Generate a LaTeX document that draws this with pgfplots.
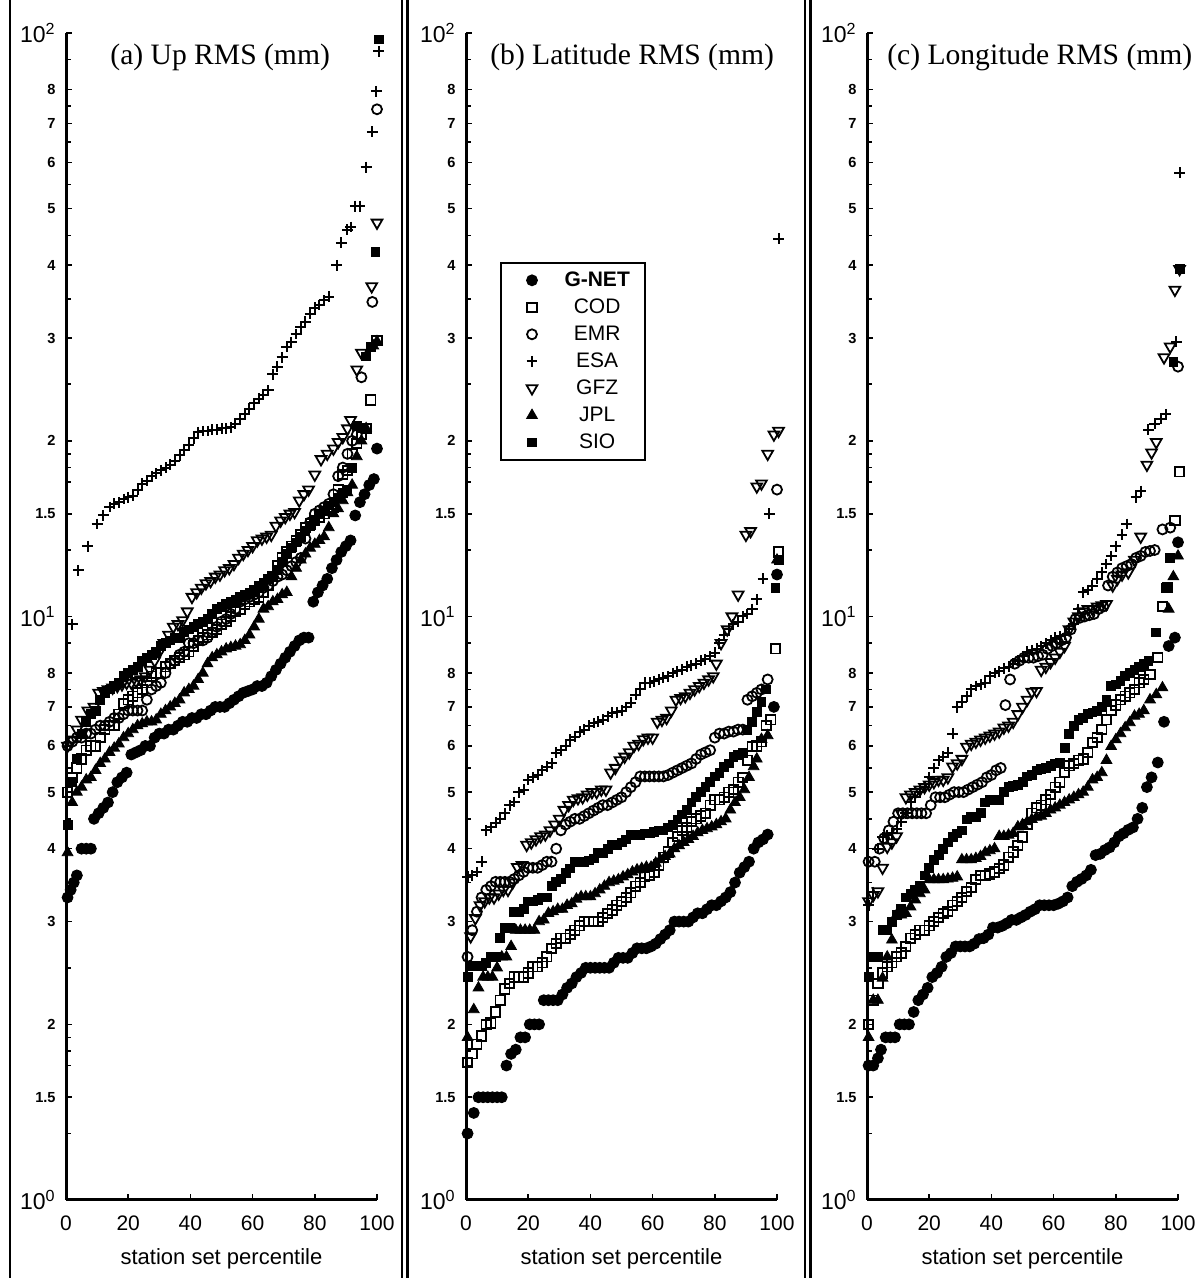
\documentclass[border=0pt]{standalone}
\usepackage{pgfplots}
\pgfplotsset{compat=1.18}
\usepackage{fontspec}
\setmainfont{Liberation Sans}
\newfontfamily\timesfont{Liberation Serif}
\newcommand\mn[1]{{\fontsize{7.3}{7.3}\selectfont\bfseries #1}}
\newcommand\mj[1]{{\fontsize{11.5}{11.5}\selectfont 10\textsuperscript{#1}}}
\pgfplotsset{
  gnet/.style={only marks, black, mark=*, mark size=2.7pt, mark options={fill=black, line width=0.5pt}},
  cod/.style={only marks, black, mark=square, mark size=2.35pt, mark options={line width=0.9pt}},
  emr/.style={only marks, black, mark=o, mark size=2.5pt, mark options={line width=0.9pt}},
  esa/.style={only marks, black, mark=+, mark size=2.7pt, mark options={line width=1pt}},
  gfz/.style={only marks, black, mark=triangle, mark size=3.1pt, mark options={rotate=180, line width=0.9pt}},
  jpl/.style={only marks, black, mark=triangle*, mark size=3.1pt, mark options={fill=black, line width=0.4pt}},
  sio/.style={only marks, black, mark=square*, mark size=2.2pt, mark options={fill=black, line width=0.4pt}},
  rmspanel/.style={
    scale only axis, width=155.5pt, height=583.5pt,
    anchor=south west,
    xmin=0, xmax=100, ymin=1, ymax=100,
    clip=false,
    axis lines*=left,
    axis line style={line width=1.5pt},
    tick align=inside,
    major tick length=3pt, minor tick length=2.5pt,
    tick style={line width=0.8pt, black},
    xtick={0,20,40,60,80,100},
    xticklabels={0,20,40,60,80,100},
    xticklabel style={anchor=north, inner sep=0pt, yshift=-7.5pt, font=\fontsize{10.5}{10.5}\selectfont},
    ytick={1,1.5,2,3,4,5,6,7,8,10,15,20,30,40,50,60,70,80,100},
    yticklabels={\mj{0},\mn{1.5},\mn{2},\mn{3},\mn{4},\mn{5},\mn{6},\mn{7},\mn{8},\mj{1},\mn{1.5},\mn{2},\mn{3},\mn{4},\mn{5},\mn{6},\mn{7},\mn{8},\mj{2}},
    minor ytick={1.3,1.7,1.8,1.9,2.5,3.5,4.5,5.5,6.5,7.5,9,13,17,18,19,25,35,45,55,65,75,90},
    yticklabel style={anchor=east, inner sep=0pt, xshift=-5pt},
    xlabel={station set percentile},
    xlabel style={at={(axis description cs:0.5,0)}, anchor=north, inner sep=0pt, yshift=-24pt, font=\fontsize{11}{11}\selectfont},
  },
}
\begin{document}
\begin{tikzpicture}
\useasboundingbox (0,0) rectangle (601pt,639pt);
\draw[line width=1.4pt] (5pt,0) -- (5pt,639pt);
\draw[line width=1.2pt] (201pt,0) -- (201pt,639pt);
\draw[line width=1.2pt] (203.8pt,0) -- (203.8pt,639pt);
\draw[line width=1.2pt] (402.5pt,0) -- (402.5pt,639pt);
\draw[line width=1.2pt] (405.3pt,0) -- (405.3pt,639pt);

% ---------------- (a) Up ----------------
\begin{semilogyaxis}[rmspanel, at={(33pt,39pt)}]
\addplot[gnet] coordinates {(0.5,3.3)(1.5,3.4)(2.5,3.5)(3.5,3.6)(5,4.0)(6.5,4.0)(8,4.0)(9,4.5)(10.5,4.6)(12,4.7)(13.5,4.8)(15,5.0)(16.5,5.2)(18,5.3)(19.5,5.4)(21,5.8)(22.5,5.85)(24,5.9)(25.5,6.0)(27,6.0)(28.5,6.2)(30,6.3)(31.5,6.3)(33,6.4)(34.5,6.4)(36,6.5)(37.5,6.6)(39,6.6)(40.5,6.7)(42,6.7)(43.5,6.8)(45,6.8)(46.5,6.9)(48,7.0)(49.5,7.0)(51,7.0)(52.5,7.1)(54,7.2)(55.5,7.3)(57,7.4)(58.5,7.45)(60,7.5)(61.5,7.6)(63,7.6)(64.5,7.7)(66,7.9)(67.5,8.1)(69,8.3)(70.5,8.5)(72,8.7)(73.5,8.9)(75,9.1)(76.5,9.2)(78,9.2)(79.5,10.6)(81,11.0)(82.5,11.3)(84,11.6)(85.5,12.1)(87,12.5)(88.5,12.9)(90,13.2)(91.5,13.5)(93,14.9)(94.5,15.7)(96,16.2)(97.5,16.8)(99,17.2)(100,19.4)};
\addplot[cod] coordinates {(0.5,5.0)(2,5.3)(3.5,5.5)(5,5.7)(6.5,5.9)(8,6.0)(9.5,6.0)(11,6.2)(12.5,6.4)(14,6.5)(15.5,6.5)(17,6.8)(18.5,7.1)(20,7.2)(21.5,7.3)(23,7.4)(24.5,7.5)(26,7.7)(27.5,7.9)(29,8.0)(30.5,8.0)(32,8.2)(33.5,8.3)(35,8.4)(36.5,8.5)(38,8.6)(39.5,8.7)(41,8.9)(42.5,9.1)(44,9.2)(45.5,9.3)(47,9.4)(48.5,9.5)(50,9.7)(51.5,9.8)(53,10.0)(54.5,10.2)(56,10.3)(57.5,10.5)(59,10.6)(60.5,10.7)(62,10.8)(63.5,11.0)(65,11.3)(66.5,11.7)(68,12.2)(69.5,12.6)(71,12.9)(72.5,13.2)(74,13.5)(75.5,13.8)(77,14.2)(78.5,14.4)(80,14.6)(81.5,14.8)(83,15.0)(84.5,15.2)(86,15.4)(87.5,16.5)(89,17.5)(90.5,17.8)(92,19.0)(93.5,19.8)(95,20.5)(96.5,21.0)(98,23.5)(100,29.7)};
\addplot[emr] coordinates {(0.5,6.0)(2,6.1)(3.5,6.2)(5,6.2)(6.5,6.3)(8,6.3)(9.5,6.4)(11,6.5)(12.5,6.5)(14,6.6)(15.5,6.7)(17,6.7)(18.5,6.8)(20,6.9)(21.5,6.9)(23,6.9)(24.5,6.9)(26,7.2)(27.5,7.5)(29,7.6)(30.5,7.7)(32,8.0)(33.5,8.3)(35,8.4)(36.5,8.6)(38,8.7)(39.5,9.0)(41,9.0)(42.5,9.1)(44,9.1)(45.5,9.2)(47,9.4)(48.5,9.6)(50,9.8)(51.5,9.9)(53,10.1)(54.5,10.3)(56,10.6)(57.5,10.7)(59,10.8)(60.5,10.9)(62,11.0)(63.5,11.2)(65,11.3)(66.5,11.5)(68,11.7)(69.5,11.8)(71,12.0)(72.5,12.2)(74,12.4)(75.5,12.6)(77,13.6)(78.5,14.5)(80,15.0)(81.5,15.2)(83,15.4)(84.5,15.6)(86,16.2)(87.5,17.4)(89,18.0)(90.5,19.0)(92,20.0)(93.5,20.5)(95,25.7)(98.5,34.6)(100,74)};
\addplot[esa] coordinates {(2,9.7)(4,12.0)(7,13.2)(10,14.4)(12,14.9)(14,15.4)(15.5,15.6)(17,15.7)(18.5,15.9)(20,16.0)(21.5,16.1)(23,16.5)(24.5,16.9)(26,17.1)(27.5,17.4)(29,17.6)(30.5,17.8)(32,18.0)(33.5,18.2)(35,18.5)(36.5,18.9)(38,19.3)(39.5,19.7)(41,20.2)(42.5,20.7)(44,20.8)(45.5,20.8)(47,20.9)(48.5,20.9)(50,21.0)(51.5,21.0)(53,21.1)(54.5,21.4)(56,21.8)(57.5,22.2)(59,22.7)(60.5,23.2)(62,23.6)(63.5,24.0)(65,24.4)(66.5,26.0)(68,26.8)(69.5,27.8)(71,29.0)(72.5,29.5)(74,30.5)(75.5,31.3)(77,32.0)(78.5,33.0)(80,33.8)(81.5,34.2)(83,34.8)(84.5,35.3)(87,40.0)(88.5,43.7)(90.5,46.0)(91.5,46.5)(93,50.5)(94.5,50.5)(96.5,58.9)(98.5,67.7)(99.8,79.5)(100.5,93)};
\addplot[gfz] coordinates {(0.5,6.0)(2,6.15)(3.5,6.4)(5,6.65)(7,6.9)(9,7.0)(10.5,7.4)(12,7.45)(13.5,7.5)(15,7.55)(16.5,7.6)(18,7.65)(19.5,7.7)(21,7.7)(22.5,7.75)(24,7.8)(25.5,7.9)(27,8.1)(28.5,8.4)(30,8.7)(31.5,9.0)(33,9.3)(34.5,9.6)(36,9.7)(37.5,9.85)(39,10.2)(40.5,10.8)(42,11.0)(43.5,11.2)(45,11.4)(46.5,11.5)(48,11.7)(49.5,11.8)(51,12.0)(52.5,12.1)(54,12.3)(55.5,12.6)(57,12.8)(58.5,13.0)(60,13.2)(61.5,13.5)(63,13.6)(64.5,13.7)(66,13.8)(67.5,14.3)(69,14.6)(70.5,14.8)(72,15.0)(73.5,15.1)(75,15.8)(76.5,16.2)(78,16.5)(80,17.5)(82,18.6)(84,19.0)(86,19.4)(87.5,19.9)(89,20.3)(90.5,21.0)(91.5,21.7)(93.5,26.5)(95,28.3)(98.3,36.8)(100,47.3)};
\addplot[jpl] coordinates {(0.5,3.94)(2,4.8)(3.5,5.0)(5,5.1)(6.5,5.25)(8,5.3)(9.5,5.45)(11,5.6)(12.5,5.7)(14,5.85)(15.5,5.95)(17,6.05)(18.5,6.2)(20,6.3)(21.5,6.4)(23,6.5)(24.5,6.55)(26,6.6)(27.5,6.6)(29,6.65)(30.5,6.8)(32,6.9)(33.5,7.0)(35,7.1)(36.5,7.2)(38,7.4)(39.5,7.5)(41,7.6)(42.5,7.8)(44,8.0)(45.5,8.3)(47,8.5)(48.5,8.6)(50,8.7)(51.5,8.8)(53,8.85)(54.5,8.9)(56,8.95)(57.5,9.1)(59,9.3)(60.5,9.6)(62,9.9)(63.5,10.3)(65,10.4)(66.5,10.6)(68,10.7)(69.5,10.9)(71,11.0)(72.5,11.7)(74,12.1)(75.5,12.5)(77,12.8)(78.5,13.1)(80,13.3)(81.5,13.5)(83,13.7)(84.5,14.2)(86,15.0)(87.5,15.3)(89,15.8)(90.5,16.3)(92,16.8)(93.5,18.8)(95,20.0)(96.5,21.0)(98.8,29.1)(100,29.6)};
\addplot[sio] coordinates {(0.5,4.4)(2,5.2)(3.5,5.7)(5,6.3)(6.5,6.6)(8,6.8)(9.5,6.9)(11,7.2)(12.5,7.4)(14,7.5)(15.5,7.6)(17,7.7)(18.5,7.9)(20,8.0)(21.5,8.1)(23,8.2)(24.5,8.4)(26,8.5)(27.5,8.6)(29,8.7)(30.5,8.9)(32,9.0)(33.5,9.1)(35,9.2)(36.5,9.2)(38,9.4)(39.5,9.5)(41,9.6)(42.5,9.7)(44,9.8)(45.5,9.9)(47,10.1)(48.5,10.3)(50,10.4)(51.5,10.5)(53,10.6)(54.5,10.7)(56,10.8)(57.5,10.9)(59,11.0)(60.5,11.1)(62,11.3)(63.5,11.4)(65,11.6)(66.5,11.7)(68,12.0)(69.5,12.4)(71,12.8)(72.5,13.1)(74,13.4)(75.5,13.7)(77,14.0)(78.5,14.3)(80,14.6)(81.5,15.0)(83,15.2)(84.5,15.5)(86,15.7)(87.5,16.0)(89,16.3)(90.5,16.5)(92,18.0)(93.5,21.2)(95,21.0)(96.5,27.9)(98,29.0)(99.5,42.1)(100.5,97.5)};
\node[anchor=west, inner sep=0pt, font=\timesfont\fontsize{14.8}{14.8}\selectfont] at (rel axis cs:0.1415,0.979) {(a) Up RMS (mm)};
\end{semilogyaxis}

% ---------------- (b) Latitude ----------------
\begin{semilogyaxis}[rmspanel, at={(233pt,39pt)},
  legend image code/.code={\path[draw=none,fill=none] (0pt,-3pt) rectangle (18pt,3pt); \path[#1] plot[only marks, mark repeat=2, mark phase=2] coordinates {(0pt,0pt) (9pt,0pt) (18pt,0pt)};},
  legend cell align=center,
  legend style={at={(0.109,0.804)}, anchor=north west, draw=black, line width=1.1pt, fill=white, inner xsep=6.5pt, inner ysep=2pt, column sep=6.25pt, font=\fontsize{10.5}{10.5}\selectfont, nodes={inner xsep=1pt, inner ysep=1.75pt, text height=8pt, text depth=2pt}},
]
\addplot[gnet] coordinates {(0.5,1.30)(2.5,1.41)(4,1.5)(5.5,1.5)(7,1.5)(8.5,1.5)(10,1.5)(11.5,1.5)(13,1.70)(14.5,1.78)(16,1.81)(17.5,1.9)(19,1.9)(20.5,2.0)(22,2.0)(23.5,2.0)(25,2.2)(26.5,2.2)(28,2.2)(29.5,2.2)(31,2.25)(32.5,2.31)(34,2.35)(35.5,2.41)(37,2.45)(38.5,2.5)(40,2.5)(41.5,2.5)(43,2.5)(44.5,2.5)(46,2.5)(47.5,2.55)(49,2.6)(50.5,2.6)(52,2.6)(53.5,2.65)(55,2.7)(56.5,2.7)(58,2.7)(59.5,2.72)(61,2.75)(62.5,2.8)(64,2.85)(65.5,2.9)(67,3.0)(68.5,3.0)(70,3.0)(71.5,3.0)(73,3.05)(74.5,3.1)(76,3.1)(77.5,3.15)(79,3.2)(80.5,3.2)(82,3.25)(83.5,3.3)(85,3.37)(86.5,3.5)(88,3.64)(89.5,3.72)(91,3.8)(92.5,4.0)(94,4.1)(95.5,4.15)(97,4.23)(99,7.0)(100,11.8)};
\addplot[cod] coordinates {(0.5,1.72)(2,1.78)(3.5,1.85)(5,1.91)(6.5,2.0)(8,2.01)(9.5,2.1)(11,2.2)(12.5,2.3)(14,2.35)(15.5,2.41)(17,2.41)(18.5,2.41)(20,2.45)(21.5,2.51)(23,2.51)(24.5,2.55)(26,2.61)(27.5,2.7)(29,2.75)(30.5,2.81)(32,2.81)(33.5,2.85)(35,2.9)(36.5,2.95)(38,3.0)(39.5,3.0)(41,3.0)(42.5,3.0)(44,3.05)(45.5,3.1)(47,3.14)(48.5,3.2)(50,3.25)(51.5,3.3)(53,3.36)(54.5,3.45)(56,3.5)(57.5,3.58)(59,3.6)(60.5,3.65)(62,3.75)(63.5,3.87)(65,3.95)(66.5,4.1)(68,4.2)(69.5,4.3)(71,4.35)(72.5,4.45)(74,4.5)(75.5,4.55)(77,4.6)(78.5,4.75)(80,4.85)(81.5,4.85)(83,4.9)(84.5,5.0)(86,5.05)(87.5,5.2)(89,5.3)(90.5,5.67)(92,5.99)(93.5,6.0)(95,6.1)(96.5,6.5)(98,6.65)(99.5,8.8)(100.5,12.9)};
\addplot[emr] coordinates {(0.5,2.61)(2,2.9)(3.5,3.12)(5,3.3)(6.5,3.4)(8,3.45)(9.5,3.51)(11,3.51)(12.5,3.51)(14,3.51)(15.5,3.55)(17,3.6)(18.5,3.65)(20,3.71)(21.5,3.71)(23,3.71)(24.5,3.75)(26,3.8)(27.5,3.8)(29,4.0)(30.5,4.3)(32,4.4)(33.5,4.45)(35,4.5)(36.5,4.5)(38,4.55)(39.5,4.6)(41,4.65)(42.5,4.7)(44,4.75)(45.5,4.75)(47,4.8)(48.5,4.85)(50,4.9)(51.5,5.0)(53,5.1)(54.5,5.2)(56,5.32)(57.5,5.32)(59,5.32)(60.5,5.32)(62,5.32)(63.5,5.32)(65,5.35)(66.5,5.4)(68,5.45)(69.5,5.5)(71,5.55)(72.5,5.6)(74,5.7)(75.5,5.8)(77,5.85)(78.5,5.9)(80,6.2)(81.5,6.3)(83,6.3)(84.5,6.35)(86,6.35)(87.5,6.4)(89,6.4)(90.5,7.2)(92,7.3)(93.5,7.4)(95,7.5)(97,7.8)(100,16.5)};
\addplot[esa] coordinates {(0.5,3.58)(2,3.6)(3.5,3.65)(5,3.8)(6.5,4.3)(8,4.35)(9.5,4.43)(11,4.5)(12.5,4.6)(14,4.75)(15.5,4.81)(17,5.0)(18.5,5.05)(20,5.25)(21.5,5.3)(23,5.35)(24.5,5.45)(26,5.53)(27.5,5.6)(29,5.84)(30.5,5.9)(32,6.0)(33.5,6.15)(35,6.22)(36.5,6.35)(38,6.4)(39.5,6.5)(41,6.57)(42.5,6.6)(44,6.65)(45.5,6.75)(47,6.84)(48.5,6.85)(50,6.9)(51.5,7.0)(53,7.12)(54.5,7.35)(56,7.5)(57.5,7.7)(59,7.7)(60.5,7.75)(62,7.8)(63.5,7.85)(65,7.9)(66.5,8.0)(68,8.05)(69.5,8.1)(71,8.2)(72.5,8.25)(74,8.3)(75.5,8.4)(77,8.45)(78.5,8.55)(80,8.67)(81.5,9.0)(83,9.3)(84.5,9.5)(86,9.7)(87.5,9.8)(89,10.0)(90.5,10.1)(92,10.3)(93.5,10.7)(95.5,11.6)(97.5,15.0)(100.5,44.4)};
\addplot[gfz] coordinates {(1.5,2.83)(3,3.04)(4.5,3.2)(6,3.25)(7.5,3.3)(9,3.3)(10.5,3.35)(12,3.4)(13.5,3.4)(15,3.5)(16.5,3.72)(18,3.75)(19.5,4.06)(21,4.1)(22.5,4.15)(24,4.2)(25.5,4.23)(27,4.3)(28.5,4.4)(30,4.5)(31.5,4.66)(33,4.75)(34.5,4.85)(36,4.88)(37.5,4.9)(39,4.95)(40.5,5.0)(42,5.0)(43.5,5.05)(45,5.05)(46.5,5.4)(48,5.5)(49.5,5.67)(51,5.75)(52.5,5.85)(54,6.0)(55.5,6.05)(57,6.16)(58.5,6.2)(60,6.2)(61.5,6.6)(63,6.65)(64.5,6.7)(66,6.9)(67.5,7.2)(69,7.25)(70.5,7.3)(72,7.4)(73.5,7.5)(75,7.6)(76.5,7.7)(78,7.8)(79.5,7.9)(80.5,8.3)(82,9.0)(84,9.5)(85.5,10.0)(87.5,10.9)(90,13.8)(91.5,14.0)(93.5,16.7)(95,16.9)(97,19.0)(99,20.5)(100.5,20.8)};
\addplot[jpl] coordinates {(0.5,1.9)(2.5,2.12)(4,2.31)(5.5,2.41)(7,2.41)(8.5,2.41)(10,2.5)(11.5,2.61)(13,2.61)(14.5,2.72)(16,2.9)(17.5,2.9)(19,2.9)(20.5,2.9)(22,2.9)(23.5,3.0)(25,3.02)(26.5,3.1)(28,3.12)(29.5,3.15)(31,3.15)(32.5,3.2)(34,3.22)(35.5,3.28)(37,3.31)(38.5,3.31)(40,3.31)(41.5,3.35)(43,3.4)(44.5,3.45)(46,3.5)(47.5,3.52)(49,3.54)(50.5,3.58)(52,3.61)(53.5,3.65)(55,3.68)(56.5,3.7)(58,3.72)(59.5,3.72)(61,3.78)(62.5,3.83)(64,3.88)(65.5,3.92)(67,4.0)(68.5,4.05)(70,4.1)(71.5,4.15)(73,4.2)(74.5,4.26)(76,4.3)(77.5,4.33)(79,4.36)(80.5,4.4)(82,4.45)(83.5,4.5)(85,4.66)(86.5,4.8)(88,4.9)(89.5,5.05)(91,5.3)(92.5,5.53)(93.5,5.7)(95,6.16)(97,6.25)(100,12.5)};
\addplot[sio] coordinates {(0.5,2.41)(2,2.52)(3.5,2.52)(5,2.52)(6.5,2.55)(8,2.61)(9.5,2.61)(11,2.81)(12.5,2.93)(14,2.93)(15.5,3.12)(17,3.12)(18.5,3.15)(20,3.25)(21.5,3.25)(23,3.27)(24.5,3.3)(26,3.3)(27.5,3.45)(29,3.51)(30.5,3.55)(32,3.64)(33.5,3.7)(35,3.8)(36.5,3.8)(38,3.8)(39.5,3.82)(41,3.85)(42.5,3.94)(44,3.94)(45.5,4.0)(47,4.06)(48.5,4.06)(50,4.1)(51.5,4.15)(53,4.23)(54.5,4.23)(56,4.23)(57.5,4.25)(59,4.25)(60.5,4.27)(62,4.3)(63.5,4.3)(65,4.35)(66.5,4.4)(68,4.49)(69.5,4.58)(71,4.66)(72.5,4.8)(74,4.9)(75.5,5.0)(77,5.1)(78.5,5.2)(80,5.32)(81.5,5.4)(83,5.53)(84.5,5.6)(86,5.75)(87.5,5.8)(89,5.84)(90.5,6.4)(92,6.6)(93.5,6.87)(95,7.15)(96.5,7.5)(99.5,11.2)(100.5,12.5)};
\legend{\textbf{G-NET},COD,EMR,ESA,GFZ,JPL,SIO}
\node[anchor=west, inner sep=0pt, font=\timesfont\fontsize{14.8}{14.8}\selectfont] at (rel axis cs:0.077,0.979) {(b) Latitude RMS (mm)};
\end{semilogyaxis}

% ---------------- (c) Longitude ----------------
\begin{semilogyaxis}[rmspanel, at={(433.5pt,39pt)}]
\addplot[gnet] coordinates {(0.5,1.70)(2,1.70)(3.5,1.75)(4.5,1.81)(6,1.9)(7.5,1.9)(9,1.9)(10.5,2.0)(12,2.0)(13.5,2.0)(15,2.1)(16.5,2.2)(18,2.25)(19.5,2.31)(21,2.41)(22.5,2.45)(24,2.51)(25.5,2.61)(27,2.65)(28.5,2.72)(30,2.72)(31.5,2.72)(33,2.72)(34.5,2.75)(36,2.8)(37.5,2.81)(39,2.85)(40.5,2.93)(42,2.93)(43.5,2.95)(45,2.98)(46.5,3.02)(48,3.02)(49.5,3.05)(51,3.08)(52.5,3.12)(54,3.15)(55.5,3.2)(57,3.2)(58.5,3.2)(60,3.2)(61.5,3.22)(63,3.25)(64.5,3.3)(66,3.45)(67.5,3.51)(69,3.55)(70.5,3.6)(72,3.68)(73.5,3.9)(75,3.92)(76.5,3.98)(78,4.02)(79.5,4.1)(81,4.2)(82.5,4.25)(84,4.31)(85.5,4.35)(87,4.5)(88.5,4.7)(90,5.1)(91.5,5.3)(93.5,5.62)(95.5,6.6)(97,8.9)(99,9.2)(100,13.4)};
\addplot[cod] coordinates {(0.5,2.0)(2,2.2)(3.5,2.35)(5,2.45)(6.5,2.51)(8,2.55)(9.5,2.61)(11,2.65)(12.5,2.72)(14,2.81)(15.5,2.85)(17,2.9)(18.5,2.9)(20,2.95)(21.5,3.0)(23,3.05)(24.5,3.1)(26,3.12)(27.5,3.2)(29,3.25)(30.5,3.3)(32,3.38)(33.5,3.43)(35,3.54)(36.5,3.6)(38,3.6)(39.5,3.62)(41,3.65)(42.5,3.7)(44,3.75)(45.5,3.87)(47,3.95)(48.5,4.05)(50,4.19)(51.5,4.4)(53,4.6)(54.5,4.7)(56,4.75)(57.5,4.85)(59,4.95)(60.5,5.1)(62,5.2)(63.5,5.4)(65,5.55)(66.5,5.6)(68,5.67)(69.5,5.7)(71,5.85)(72.5,6.08)(74,6.2)(75.5,6.4)(77,6.65)(78.5,6.9)(80,7.05)(81.5,7.2)(83,7.3)(84.5,7.4)(86,7.5)(87.5,7.7)(89,7.8)(91,7.95)(93.5,8.5)(95,10.4)(96.5,11.2)(99,14.6)(100.5,17.7)};
\addplot[emr] coordinates {(0.5,3.8)(2.5,3.8)(4,4.0)(5.5,4.17)(7,4.3)(8.5,4.45)(10,4.6)(11.5,4.6)(13,4.6)(14.5,4.6)(16,4.6)(17.5,4.6)(19,4.6)(20.5,4.75)(22,4.9)(23.5,4.9)(25,4.9)(26.5,4.95)(28,5.0)(29.5,5.0)(31,5.0)(32.5,5.05)(34,5.1)(35.5,5.15)(37,5.2)(38.5,5.3)(40,5.35)(41.5,5.45)(43,5.5)(44.5,7.05)(46,7.8)(47.5,8.3)(49,8.4)(50.5,8.5)(52,8.5)(53.5,8.5)(55,8.55)(56.5,8.6)(58,8.8)(59.5,8.9)(61,9.0)(62.5,9.1)(64,9.2)(65.5,9.5)(67,9.9)(68.5,9.95)(70,10.0)(71.5,10.05)(73,10.1)(74.5,10.3)(76,10.4)(77.5,11.3)(79,11.7)(80.5,11.9)(82,12.1)(83.5,12.2)(85,12.3)(86.5,12.6)(88,12.7)(89.5,12.9)(91,12.95)(92.5,13.0)(95,14.1)(97.5,14.2)(100,26.8)};
\addplot[esa] coordinates {(0.5,3.2)(2,3.37)(3.5,4.0)(5,4.19)(6.5,4.22)(8,4.25)(9.5,4.33)(11,4.45)(12.5,4.6)(14,4.8)(15.5,4.9)(17,5.0)(18.5,5.1)(20,5.3)(21.5,5.5)(23,5.67)(24.5,5.75)(26,5.84)(27.5,6.3)(29,6.99)(30.5,7.15)(32,7.3)(33.5,7.5)(35,7.6)(36.5,7.65)(38,7.7)(39.5,7.9)(41,8.0)(42.5,8.06)(44,8.15)(45.5,8.2)(47,8.3)(48.5,8.4)(50,8.55)(51.5,8.7)(53,8.75)(54.5,8.8)(56,8.9)(57.5,9.0)(59,9.1)(60.5,9.2)(62,9.25)(63.5,9.3)(65,9.5)(66.5,9.7)(68,10.3)(69.5,11.0)(71,11.1)(72.5,11.3)(74,11.6)(75.5,11.9)(77,12.3)(78.5,12.7)(80,13.2)(82,13.8)(83.5,14.4)(86.5,16.0)(88,16.4)(90.5,20.9)(92.5,21.4)(94.5,21.8)(96,22.2)(99.5,29.6)(100.5,57.6)};
\addplot[gfz] coordinates {(0.5,3.25)(2,3.33)(3.5,3.38)(5,3.71)(6.5,4.03)(8,4.1)(9.5,4.2)(11,4.6)(12.5,4.9)(14,4.95)(15.5,5.0)(17,5.05)(18.5,5.1)(20,5.15)(21.5,5.2)(23,5.25)(24.5,5.25)(26,5.3)(27.5,5.53)(29,5.6)(30.5,5.7)(32,5.98)(33.5,6.05)(35,6.1)(36.5,6.15)(38,6.2)(39.5,6.25)(41,6.3)(42.5,6.35)(44,6.45)(45.5,6.5)(47,6.6)(48.5,6.8)(50,7.0)(51.5,7.2)(53,7.43)(54.5,7.45)(56,8.1)(57.5,8.2)(59,8.35)(60.5,8.5)(62,8.7)(63.5,8.9)(65,9.5)(66.5,9.8)(68,10.0)(69.5,10.2)(71,10.3)(72.5,10.3)(74,10.4)(75.5,10.45)(77,10.5)(79,11.3)(80.5,11.6)(82,11.8)(84,11.9)(86,12.5)(88,13.7)(90,18.2)(91.5,19.1)(93,19.9)(95.5,27.8)(97.5,29.0)(99,36.3)(100.5,39.4)};
\addplot[jpl] coordinates {(0.5,1.9)(2,2.2)(3.5,2.2)(5,2.4)(6.5,2.61)(8,2.79)(9.5,3.08)(11,3.08)(12.5,3.1)(14,3.18)(15.5,3.27)(17,3.35)(18.5,3.4)(20,3.54)(21.5,3.54)(23,3.54)(24.5,3.54)(26,3.55)(27.5,3.56)(29,3.58)(30.5,3.83)(32,3.83)(33.5,3.83)(35,3.85)(36.5,3.88)(38,3.94)(39.5,3.97)(41,4.0)(42.5,4.2)(44,4.2)(45.5,4.22)(47,4.25)(48.5,4.36)(50,4.4)(51.5,4.45)(53,4.49)(54.5,4.53)(56,4.55)(57.5,4.6)(59,4.66)(60.5,4.7)(62,4.75)(63.5,4.8)(65,4.85)(66.5,4.9)(68,4.95)(69.5,5.0)(71,5.1)(72.5,5.25)(74,5.3)(75.5,5.4)(77,5.67)(78.5,5.99)(80,6.15)(81.5,6.3)(83,6.45)(84.5,6.58)(86,6.75)(87.5,6.8)(89,6.9)(91,7.2)(93,7.35)(95,7.55)(97,10.3)(98.5,11.7)(100,12.7)};
\addplot[sio] coordinates {(0.5,2.41)(2,2.61)(3.5,2.61)(5,2.9)(6.5,2.9)(8,3.0)(9.5,3.08)(11,3.15)(12.5,3.3)(14,3.35)(15.5,3.4)(17,3.45)(18.5,3.6)(20,3.71)(21.5,3.83)(23,3.9)(24.5,4.0)(26,4.1)(27.5,4.19)(29,4.25)(30.5,4.3)(32,4.49)(33.5,4.53)(35,4.53)(36.5,4.6)(38,4.8)(39.5,4.85)(41,4.85)(42.5,4.85)(44,5.0)(45.5,5.1)(47,5.12)(48.5,5.15)(50,5.2)(51.5,5.32)(53,5.35)(54.5,5.45)(56,5.48)(57.5,5.5)(59,5.55)(60.5,5.6)(62,5.62)(63.5,5.96)(65,6.3)(66.5,6.5)(68,6.65)(69.5,6.7)(71,6.8)(72.5,6.85)(74,6.9)(75.5,7.0)(77,7.2)(78.5,7.6)(80,7.65)(81.5,7.75)(83,7.9)(84.5,8.0)(86,8.1)(87.5,8.2)(89,8.3)(90.5,8.4)(93,9.39)(96,11.2)(97.5,12.6)(98.5,27.3)(100.5,39.4)};
\node[anchor=west, inner sep=0pt, font=\timesfont\fontsize{14.8}{14.8}\selectfont] at (rel axis cs:0.064,0.979) {(c) Longitude RMS (mm)};
\end{semilogyaxis}
\end{tikzpicture}
\end{document}
